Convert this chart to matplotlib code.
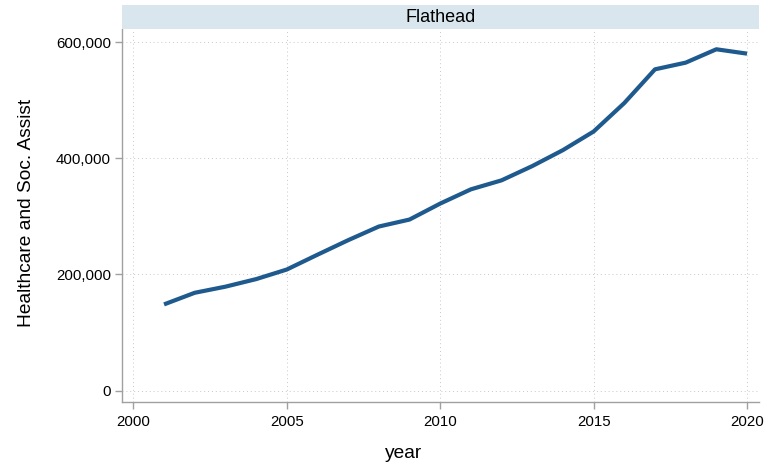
import matplotlib
matplotlib.use("Agg")
import matplotlib.pyplot as plt
from matplotlib.ticker import FuncFormatter
from matplotlib.patches import Rectangle

years = [2001, 2002, 2003, 2004, 2005, 2006, 2007, 2008, 2009, 2010,
         2011, 2012, 2013, 2014, 2015, 2016, 2017, 2018, 2019, 2020]
values = [148500, 168500, 179000, 192000, 208500, 234000, 259000, 282500, 294500, 322000,
          346500, 362000, 386500, 414000, 446000, 495000, 553000, 564500, 587500, 580000]
county = "Flathead"
xlabel = "year"
ylabel = "Healthcare and Soc. Assist"
xticks = [2000, 2005, 2010, 2015, 2020]
yticks = [0, 200000, 400000, 600000]

plt.rcParams['font.family'] = ['Liberation Sans', 'DejaVu Sans']

fig = plt.figure(figsize=(7.8, 4.66), dpi=100)
ax = fig.add_axes([122/780, 64/466, (759-122)/780, (402-29)/466])

ax.plot(years, values, color='#1f5a8e', linewidth=3.0, solid_capstyle='butt', zorder=3)

ax.set_xlim(1999.63, 2020.39)
ax.set_ylim(-19440, 622400)
ax.set_xticks(xticks)
ax.set_yticks(yticks)
ax.yaxis.set_major_formatter(FuncFormatter(lambda v, p: f"{int(v):,}"))

ax.grid(True, linestyle=(0, (1, 3)), color='#c8c8c8', linewidth=0.7)
for s in ['top', 'right']:
    ax.spines[s].set_visible(False)
for s in ['left', 'bottom']:
    ax.spines[s].set_color('#a0a0a0')
    ax.spines[s].set_linewidth(1.0)
ax.tick_params(axis='both', colors='#a0a0a0', length=5, width=1.0, labelcolor='black', labelsize=10.8)
ax.tick_params(axis='y', pad=3)
ax.tick_params(axis='x', pad=4)

fig.text(27/780, 1 - 213/466, ylabel, rotation=90, ha='center', va='center', fontsize=13.8)
fig.text(404/780, 1 - 453/466, xlabel, ha='center', va='center', fontsize=13.8)

# title strip
strip = Rectangle((122/780, 1 - 29/466), (759-122)/780, 24/466, transform=fig.transFigure,
                  facecolor='#d9e6ed', edgecolor='none')
fig.patches.append(strip)
fig.text((122+759)/2/780, 1 - 17/466, county, ha='center', va='center', fontsize=13)

fig.savefig("out.png", dpi=100)
